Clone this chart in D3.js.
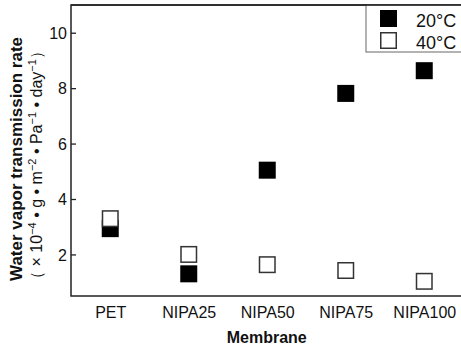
<!DOCTYPE html>
<html>
<head>
<meta charset="utf-8">
<script src="https://cdn.jsdelivr.net/npm/d3@7"></script>
<style>
  html, body { margin: 0; padding: 0; background: #fff; }
  svg { display: block; font-family: "Liberation Sans", Arial, sans-serif; }
</style>
</head>
<body>
<div id="chart"></div>
<script>
// data
const membranes = ["PET", "NIPA25", "NIPA50", "NIPA75", "NIPA100"];
const rate20 = [2.93, 1.30, 5.04, 7.81, 8.63];
const rate40 = [3.29, 2.00, 1.63, 1.42, 1.03];
const yTicks = [2, 4, 6, 8, 10];
const seriesNames = ["20°C", "40°C"];

const W = 461, H = 348;
const plot = { left: 71, top: 5, right: 463.5, bottom: 296 };

const svg = d3.select("#chart").append("svg")
  .attr("width", W).attr("height", H);

const x = d3.scalePoint().domain(membranes)
  .range([plot.left, plot.right]).padding(0.5);
const y = d3.scaleLinear().domain([0.5, 11])
  .range([plot.bottom, plot.top]);

// frame
svg.append("rect")
  .attr("x", plot.left).attr("y", plot.top)
  .attr("width", plot.right - plot.left + 5)
  .attr("height", plot.bottom - plot.top)
  .attr("fill", "none").attr("stroke", "#222").attr("stroke-width", 1.5);

// y axis, ticks pointing inward
const yAxis = svg.append("g")
  .attr("transform", `translate(${plot.left},0)`)
  .call(d3.axisRight(y).tickValues(yTicks).tickSize(5).tickFormat(d3.format("d")));
yAxis.select(".domain").remove();
yAxis.selectAll("line").attr("stroke", "#222").attr("stroke-width", 1.3);
yAxis.selectAll("text")
  .attr("x", -4).attr("dy", "0.36em")
  .attr("text-anchor", "end")
  .attr("fill", "#111").style("font-size", "16px");

// x axis labels
const xAxis = svg.append("g")
  .attr("transform", `translate(0,${plot.bottom})`)
  .call(d3.axisBottom(x).tickSize(0).tickPadding(0));
xAxis.select(".domain").remove();
xAxis.selectAll("text")
  .attr("y", 22).attr("dy", 0)
  .attr("fill", "#111").style("font-size", "16px");

// axis titles
svg.append("text")
  .attr("x", (plot.left + plot.right) / 2 - 0.5).attr("y", 343)
  .attr("text-anchor", "middle")
  .style("font-size", "16px").style("font-weight", "bold").attr("fill", "#111")
  .text("Membrane");

svg.append("text")
  .attr("transform", "translate(22,159) rotate(-90)")
  .attr("text-anchor", "middle")
  .style("font-size", "17px").style("font-weight", "bold").attr("fill", "#111")
  .text("Water vapor transmission rate");

const unit = svg.append("text")
  .attr("transform", "translate(42,165) rotate(-90)")
  .attr("text-anchor", "middle")
  .style("font-size", "16px").attr("fill", "#111");
const parts = [
  ["（ × 10", false], ["−4", true], [" • g • m", false], ["−2", true],
  [" • Pa", false], ["−1", true], [" • day", false], ["−1", true], ["）", false]
];
parts.forEach(([t, sup]) => {
  const ts = unit.append("tspan").text(t);
  if (sup) ts.attr("baseline-shift", "super").style("font-size", "11px");
});

// markers
const size = 17;
const g = svg.append("g");
g.selectAll("rect.s20").data(membranes).join("rect")
  .attr("class", "s20")
  .attr("x", (d) => x(d) - size / 2)
  .attr("y", (d, i) => y(rate20[i]) - size / 2)
  .attr("width", size).attr("height", size)
  .attr("fill", "#000");
g.selectAll("rect.s40").data(membranes).join("rect")
  .attr("class", "s40")
  .attr("x", (d) => x(d) - size / 2 + 0.75)
  .attr("y", (d, i) => y(rate40[i]) - size / 2 + 0.75)
  .attr("width", size - 1.5).attr("height", size - 1.5)
  .attr("fill", "#fff").attr("stroke", "#333").attr("stroke-width", 1.5);

// legend
const leg = svg.append("g");
leg.append("rect")
  .attr("x", 366).attr("y", plot.top)
  .attr("width", 110).attr("height", 47)
  .attr("fill", "#fff").attr("stroke", "#666").attr("stroke-width", 1);
svg.append("line")
  .attr("x1", plot.left).attr("x2", W).attr("y1", plot.top).attr("y2", plot.top)
  .attr("stroke", "#222").attr("stroke-width", 1.5);
seriesNames.forEach((name, i) => {
  const cy = 18.5 + i * 22;
  leg.append("rect")
    .attr("x", 380 + (i ? 0.75 : 0)).attr("y", cy - size / 2 + (i ? 0.75 : 0))
    .attr("width", i ? size - 1.5 : size).attr("height", i ? size - 1.5 : size)
    .attr("fill", i ? "#fff" : "#000")
    .attr("stroke", i ? "#333" : "none").attr("stroke-width", 1.5);
  leg.append("text")
    .attr("x", 416).attr("y", cy + 8)
    .style("font-size", "18px").attr("fill", "#111")
    .text(name);
});
</script>
</body>
</html>
